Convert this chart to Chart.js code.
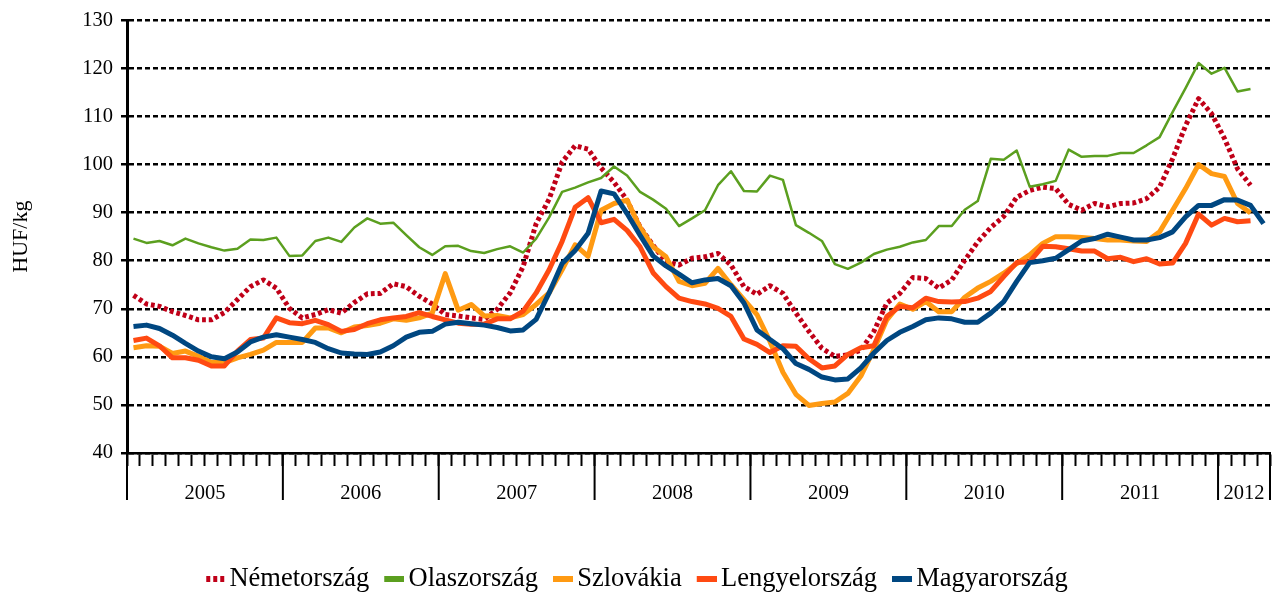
<!DOCTYPE html>
<html>
<head>
<meta charset="utf-8">
<script src="https://cdn.jsdelivr.net/npm/chart.js@4.4.1/dist/chart.umd.min.js"></script>
<style>
  html, body { margin: 0; padding: 0; background: #fff; }
</style>
</head>
<body>
<canvas id="c" width="1282" height="594"></canvas>
<script>
// categories: monthly, Jan 2005 - Apr 2012
const years = ['2005', '2006', '2007', '2008', '2009', '2010', '2011', '2012'];
const monthsInYear = [12, 12, 12, 12, 12, 12, 12, 4];

// HUF/kg
const nemet = [
  72.8, 71.0, 70.5, 69.4, 68.6, 67.7, 67.7, 69.2, 71.9, 74.6, 76.0, 74.3,
  70.1, 68.1, 68.8, 69.8, 69.1, 71.3, 73.1, 73.2, 75.2, 74.6, 72.6, 71.0,
  68.8, 68.5, 68.1, 67.8, 69.9, 73.3, 78.8, 87.7, 92.8, 100.5, 103.9, 103.2,
  99.3, 96.3, 92.6, 87.0, 83.2, 79.8, 79.1, 80.5, 80.8, 81.5, 79.1, 74.6,
  73.0, 74.8, 73.2, 69.1, 65.3, 61.8, 60.1, 60.4, 61.4, 65.3, 71.2, 73.2,
  76.5, 76.3, 74.3, 76.0, 80.1, 83.9, 86.9, 89.2, 93.2, 94.6, 95.3, 95.0,
  91.7, 90.5, 91.9, 91.2, 91.9, 92.0, 92.9, 95.3, 101.2, 108.1, 113.7, 110.6,
  105.4, 99.1, 95.7, null
];
const olasz = [
  84.6, 83.7, 84.1, 83.2, 84.6, 83.6, 82.8, 82.1, 82.5, 84.4, 84.3, 84.8,
  81.0, 81.1, 84.1, 84.8, 83.9, 86.9, 88.8, 87.7, 87.9, 85.3, 82.8, 81.2,
  83.0, 83.1, 82.0, 81.6, 82.4, 83.0, 81.7, 84.6, 89.0, 94.3, 95.2, 96.3,
  97.2, 99.6, 97.7, 94.3, 92.7, 90.8, 87.2, 88.8, 90.5, 95.7, 98.6, 94.5,
  94.4, 97.7, 96.8, 87.4, 85.8, 84.1, 79.3, 78.3, 79.6, 81.4, 82.3, 82.9,
  83.8, 84.3, 87.2, 87.2, 90.6, 92.4, 101.2, 101.0, 102.9, 95.4, 95.9, 96.6,
  103.1, 101.6, 101.8, 101.8, 102.4, 102.4, 104.0, 105.7, 110.9, 115.9, 121.1, 118.9,
  120.1, 115.2, 115.7, null
];
const szlovak = [
  61.9, 62.3, 62.2, 60.7, 61.2, 60.1, 58.8, 58.8, 59.8, 60.5, 61.4, 63.0,
  63.0, 63.0, 66.0, 66.0, 65.0, 66.2, 66.5, 67.0, 67.9, 67.6, 68.1, 69.1,
  77.3, 69.7, 70.9, 68.5, 68.6, 68.1, 68.8, 70.9, 73.3, 78.1, 83.3, 80.9,
  90.5, 91.9, 92.6, 86.9, 82.9, 80.8, 75.7, 74.8, 75.3, 78.4, 75.0, 71.9,
  68.8, 63.2, 56.8, 52.2, 49.9, 50.3, 50.6, 52.4, 56.0, 61.5, 67.7, 71.0,
  69.9, 71.5, 69.4, 69.4, 72.4, 74.3, 75.7, 77.4, 79.4, 81.2, 83.6, 85.0,
  85.0, 84.8, 84.6, 84.3, 84.3, 84.1, 84.0, 86.0, 90.5, 95.0, 100.0, 98.1,
  97.5, 91.9, 89.9, null
];
const lengyel = [
  63.4, 63.9, 62.3, 59.8, 59.8, 59.3, 58.1, 58.1, 61.2, 63.6, 63.9, 68.1,
  67.1, 66.9, 67.6, 66.7, 65.3, 65.7, 66.9, 67.7, 68.1, 68.4, 69.2, 68.4,
  67.7, 67.0, 66.8, 66.8, 67.9, 67.9, 69.5, 73.3, 78.1, 84.0, 91.1, 93.1,
  87.9, 88.6, 86.3, 82.9, 77.5, 74.6, 72.2, 71.5, 71.0, 70.1, 68.4, 63.7,
  62.6, 60.9, 62.3, 62.2, 59.6, 57.7, 58.1, 60.5, 61.9, 62.3, 68.4, 70.5,
  70.2, 72.2, 71.5, 71.4, 71.5, 72.2, 73.6, 76.7, 79.6, 79.8, 83.0, 82.9,
  82.5, 82.0, 82.0, 80.4, 80.7, 79.8, 80.4, 79.3, 79.5, 83.6, 89.7, 87.4,
  88.8, 88.1, 88.3, null
];
const magyar = [
  66.3, 66.6, 65.9, 64.5, 62.8, 61.2, 60.0, 59.6, 61.0, 63.1, 64.1, 64.6,
  64.1, 63.6, 63.0, 61.7, 60.8, 60.6, 60.5, 61.0, 62.3, 64.1, 65.1, 65.3,
  66.8, 67.2, 66.9, 66.6, 66.1, 65.4, 65.6, 67.8, 73.3, 79.4, 82.1, 85.7,
  94.5, 93.9, 89.8, 85.3, 81.0, 78.9, 77.2, 75.4, 76.0, 76.3, 74.8, 71.2,
  65.6, 63.6, 61.7, 58.6, 57.4, 55.8, 55.2, 55.4, 57.7, 60.8, 63.4, 65.1,
  66.3, 67.7, 68.1, 67.9, 67.2, 67.2, 69.1, 71.5, 75.7, 79.6, 80.0, 80.5,
  82.3, 84.1, 84.6, 85.5, 84.9, 84.3, 84.3, 84.8, 86.0, 89.1, 91.5, 91.5,
  92.7, 92.6, 91.5, 87.7
];

// month labels + where each year's name goes
const labels = [];
const yearAt = {};
const yearStarts = [];
years.forEach((y, k) => {
  yearStarts.push(labels.length);
  yearAt[labels.length + monthsInYear[k] / 2 - 1] = y;
  for (let m = 1; m <= monthsInYear[k]; m++) labels.push(y + '.' + String(m).padStart(2, '0'));
});

const serif = 'Liberation Serif, Times New Roman, serif';
const padBottom = -8;

// little legend markers, drawn to the right side of a wider canvas
function marker(color, dotted) {
  const c = document.createElement('canvas');
  c.width = 32; c.height = 6;
  const g = c.getContext('2d');
  g.fillStyle = color;
  if (dotted) {
    for (let x = 13; x < 32; x += 7) g.fillRect(x, 0, 4, 6);
  } else {
    g.fillRect(12, 0, 20, 6);
  }
  return c;
}

const datasets = [
  { label: 'Németország', data: nemet, borderColor: '#C00018', borderWidth: 5, borderDash: [3.8, 2.9], order: 5, mk: marker('#C00018', true) },
  { label: 'Olaszország', data: olasz, borderColor: '#5B9F1F', borderWidth: 2.5, order: 4, mk: marker('#5B9F1F') },
  { label: 'Szlovákia', data: szlovak, borderColor: '#FF9A12', borderWidth: 5, order: 3, mk: marker('#FF9A12') },
  { label: 'Lengyelország', data: lengyel, borderColor: '#FF4A12', borderWidth: 5, order: 2, mk: marker('#FF4A12') },
  { label: 'Magyarország', data: magyar, borderColor: '#004781', borderWidth: 5, order: 1, mk: marker('#004781') }
];
datasets.forEach(d => {
  d.pointRadius = 0;
  d.tension = 0;
  d.fill = false;
  d.borderJoinStyle = 'round';
  d.spanGaps = false;
});

// long year separators under the axis
const yearLines = {
  id: 'yearLines',
  afterDraw(chart) {
    const x = chart.scales.x;
    const ctx = chart.ctx;
    const half = (x.getPixelForValue(1) - x.getPixelForValue(0)) / 2;
    const bounds = yearStarts.concat([labels.length]);
    ctx.save();
    ctx.strokeStyle = '#000';
    ctx.lineWidth = 2;
    bounds.forEach(b => {
      const px = b < labels.length ? x.getPixelForValue(b) - half : x.getPixelForValue(b - 1) + half;
      ctx.beginPath();
      ctx.moveTo(px, x.top);
      ctx.lineTo(px, x.top + 47);
      ctx.stroke();
    });
    ctx.restore();
  }
};

new Chart(document.getElementById('c'), {
  type: 'line',
  data: { labels, datasets },
  plugins: [yearLines],
  options: {
    responsive: false,
    animation: false,
    devicePixelRatio: 1,
    layout: { padding: { top: 20, right: 12, bottom: padBottom, left: 0 } },
    plugins: {
      tooltip: { enabled: false },
      legend: {
        position: 'bottom',
        labels: {
          color: '#000',
          font: { family: serif, size: 26.5 },
          usePointStyle: true,
          pointStyleWidth: 14,
          boxHeight: 14,
          padding: 12,
          generateLabels: chart => chart.data.datasets.map((d, i) => ({
            text: d.label,
            datasetIndex: i,
            pointStyle: d.mk,
            fillStyle: d.borderColor,
            strokeStyle: d.borderColor,
            lineWidth: 0,
            fontColor: '#000',
            hidden: false
          }))
        }
      }
    },
    scales: {
      x: {
        type: 'category',
        offset: true,
        grid: { offset: true, drawOnChartArea: false, tickLength: 13, tickWidth: 2, tickColor: '#000' },
        border: { color: '#000', width: 2.5 },
        ticks: {
          autoSkip: false,
          maxRotation: 0,
          minRotation: 0,
          padding: 15,
          color: '#000',
          font: { family: serif, size: 20.5 },
          labelOffset: 6.5,
          callback: (v, i) => yearAt[i] || ''
        },
        afterFit(scale) {
          const lg = scale.chart.legend;
          scale.height = 594 - padBottom - (lg ? lg.height : 0) - 453;
        }
      },
      y: {
        min: 40,
        max: 130,
        ticks: { stepSize: 10, padding: 8, color: '#000', font: { family: serif, size: 20.5 } },
        grid: { color: '#000', lineWidth: 2.5, tickLength: 6, tickColor: '#000', tickWidth: 2.5 },
        border: { color: '#000', width: 3, dash: [5, 3] },
        title: { display: true, text: 'HUF/kg', color: '#000', font: { family: serif, size: 22 }, padding: { top: 8, bottom: 0 } },
        afterFit(scale) { scale.width = 127; }
      }
    }
  }
});
</script>
</body>
</html>
